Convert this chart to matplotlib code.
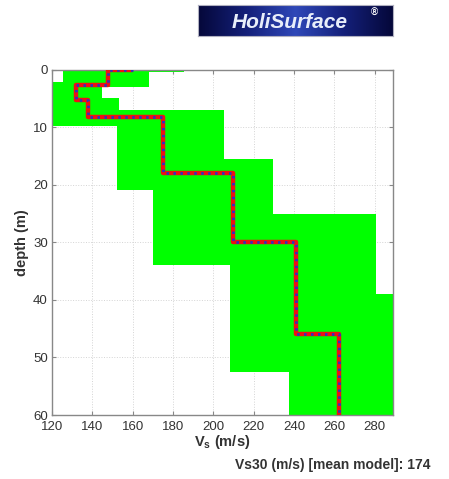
"""
Vs depth profile: envelope of accepted models (green) and the mean model
outputs: out.png
"""

import numpy as np
import matplotlib.pyplot as plt
from matplotlib.colors import LinearSegmentedColormap

plt.rcParams["font.family"] = ["Liberation Sans", "DejaVu Sans"]

# -- DATA --
# mean model: layer velocities (m/s) and layer interface depths (m)
mean_vs = [160, 148, 132, 138, 175, 209.5, 241, 262]
mean_top = [0, 0, 2.7, 5.3, 8.3, 18.0, 30.0, 46.0]
max_depth = 60

# envelope of accepted models, left (min Vs) and right (max Vs) edges
env_left_depth = [0, 2.2, 9.8, 21.0, 34.0, 52.5]
env_left_vs = [125.5, 110, 152.3, 170.2, 208, 237.3]
env_right_depth = [0, 0.4, 3.0, 4.9, 7.0, 15.5, 25.1, 39.0]
env_right_vs = [185.6, 168.2, 144.9, 153.3, 205, 229.3, 280.5, 300]

vs30 = 174
x_ticks = [120, 140, 160, 180, 200, 220, 240, 260, 280]
y_ticks = [0, 10, 20, 30, 40, 50, 60]

TEXT = "#333333"


def step_edge(tops, values, bottom):
    """Turn layer tops/values into step vertices (depth, value)."""
    edges = list(tops) + [bottom]
    d, v = [], []
    for i, val in enumerate(values):
        d += [edges[i], edges[i + 1]]
        v += [val, val]
    return np.array(d), np.array(v)


fig = plt.figure(figsize=(4.49, 4.79), dpi=100)
ax = fig.add_axes([0.1158, 0.1336, 0.7595, 0.7213])

# envelope polygon: down the left edge, back up the right edge
dl, vl = step_edge(env_left_depth, env_left_vs, max_depth)
dr, vr = step_edge(env_right_depth, env_right_vs, max_depth)
poly_v = np.concatenate([vl, vr[::-1]])
poly_d = np.concatenate([dl, dr[::-1]])
ax.fill(poly_v, poly_d, color="#00ff00", lw=0, zorder=2)

# mean model: red line with blue dots on top
md, mv = step_edge(mean_top, mean_vs, max_depth)
ax.plot(mv, md, color="#ee1111", lw=3.2, zorder=3, solid_capstyle="butt")
ax.plot(mv, md, color="#3030c0", lw=2.0, ls=(0, (0.9, 1.6)), zorder=4)

ax.set_xlim(120, 289)
ax.set_ylim(max_depth, 0)
ax.set_xticks(x_ticks)
ax.set_yticks(y_ticks)
ax.grid(True, color="#d4d4d4", ls=":", lw=0.7, zorder=1)
ax.set_axisbelow(True)
ax.tick_params(direction="in", length=3, color="#888888", labelsize=9.5,
               labelcolor=TEXT, top=True, right=True)
ax.tick_params(axis="x", pad=4)
ax.tick_params(axis="y", pad=3)
for sp in ax.spines.values():
    sp.set_color("#888888")
    sp.set_linewidth(1.0)

ax.set_xlabel(r"V$_\mathregular{s}$ (m/s)", fontsize=10.5, color=TEXT,
              fontweight="bold", labelpad=0)
ax.set_ylabel("depth (m)", fontsize=10.5, color=TEXT, fontweight="bold",
              labelpad=3)

fig.text(0.958, 0.014, f"Vs30 (m/s) [mean model]: {vs30}", ha="right",
         va="bottom", fontsize=10, fontweight="bold", color=TEXT)

# logo banner
lax = fig.add_axes([198 / 449, 1 - 36 / 479, (393 - 198) / 449, 31 / 479])
navy = LinearSegmentedColormap.from_list(
    "navy", ["#05083a", "#14207a", "#2f48b8", "#14207a", "#05083a"])
grad = np.linspace(0, 1, 200)[None, :]
lax.imshow(grad, aspect="auto", cmap=navy, extent=[0, 1, 0, 1])
lax.text(0.47, 0.44, "HoliSurface", ha="center", va="center", color="#e8eefa",
         fontsize=15, fontweight="bold", style="italic")
lax.text(0.905, 0.74, "®", ha="center", va="center", color="white",
         fontsize=7, fontweight="bold")
lax.set_xlim(0, 1)
lax.set_ylim(0, 1)
lax.set_xticks([])
lax.set_yticks([])
for sp in lax.spines.values():
    sp.set_color("#b0b0c0")
    sp.set_linewidth(0.8)

plt.savefig("out.png", dpi=100)
plt.close()
